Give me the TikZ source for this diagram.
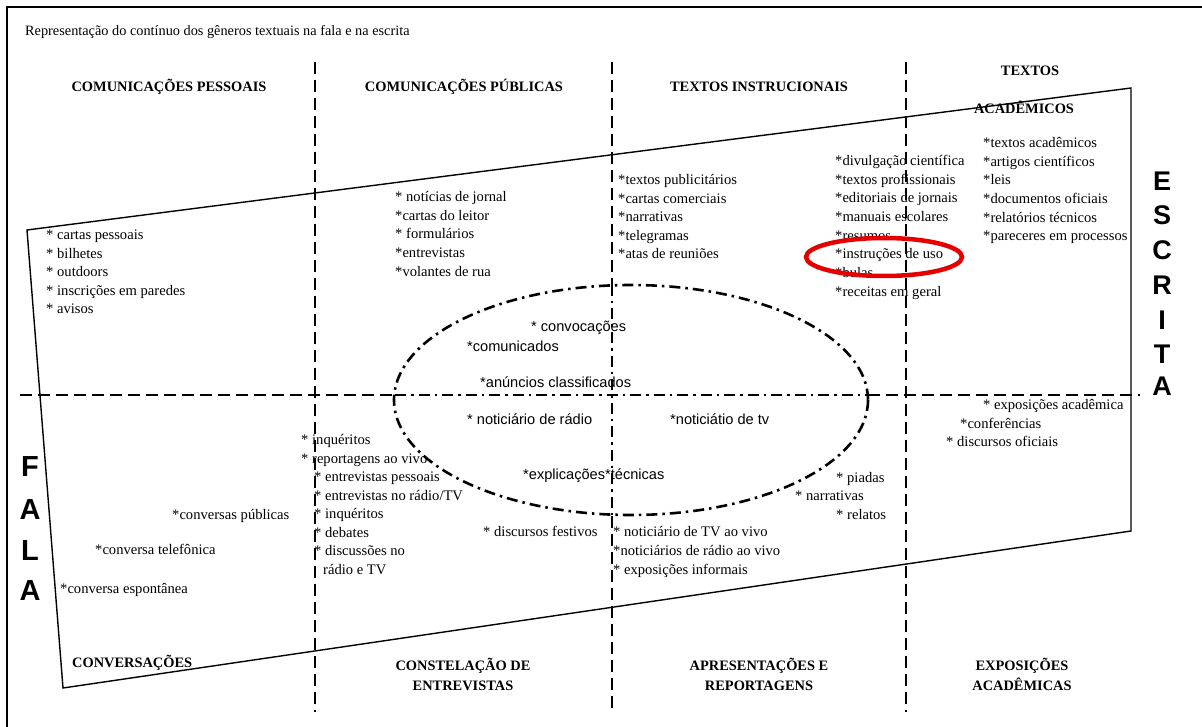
\documentclass[tikz,border=0pt]{standalone}
\usepackage{fontspec}
\setmainfont{Liberation Serif}
\setsansfont{Liberation Sans}
\begin{document}
\begin{tikzpicture}[x=1pt,y=-1pt,
  item/.style={anchor=west,inner sep=0pt,font=\fontsize{14.6}{16}\selectfont,text height=10pt,text depth=3pt},
  sitem/.style={anchor=west,inner sep=0pt,font=\sffamily\fontsize{14.6}{16}\selectfont,text height=10pt,text depth=3pt},
  head/.style={inner sep=0pt,font=\bfseries\fontsize{14.4}{20}\selectfont,align=center},
  bigletter/.style={inner sep=0pt,font=\sffamily\bfseries\fontsize{29}{30}\selectfont},
  dline/.style={line width=2.6pt,dash pattern=on 12pt off 6pt},
  ddline/.style={line width=2.6pt,dash pattern=on 11pt off 5pt on 2.5pt off 5pt},
  solidl/.style={line width=1.4pt,line join=miter}
]
\useasboundingbox (0,0) rectangle (1202,727);
\fill[white] (0,0) rectangle (1202,727);
% frame
\draw[line width=2pt] (7,727) -- (7,7) -- (1202,7);

% title
\node[anchor=west,inner sep=0pt,font=\fontsize{14.3}{16}\selectfont] (title) at (25,32) {Representação do contínuo dos gêneros textuais na fala e na escrita};

% coordinates for lines
\coordinate (v1t) at (315,62); \coordinate (v1b) at (315,712);
\coordinate (v2t) at (612,62); \coordinate (v2a) at (612,285); \coordinate (v2c) at (612,516); \coordinate (v2b) at (612,712);
\coordinate (v3t) at (906,62); \coordinate (v3b) at (906,712);
\coordinate (hl) at (20,395); \coordinate (ha) at (395,395); \coordinate (hc) at (868,395); \coordinate (hr) at (1140,395);

\draw[dline] (v1t) -- (v1b);
\draw[dline] (v3t) -- (v3b);
\draw[dline] (v2t) -- (v2a);
\draw[ddline] (v2a) -- (v2c);
\draw[dline] (v2c) -- (v2b);
\draw[dline] (hl) -- (ha);
\draw[ddline] (ha) -- (hc);
\draw[dline] (hc) -- (hr);

% central ellipse
\coordinate (ec) at (631,400);
\draw[ddline] (ec) ellipse [x radius=237, y radius=115];

% quadrilateral
\coordinate (qtl) at (27,230); \coordinate (qtr) at (1131,88);
\coordinate (qbr) at (1131,531); \coordinate (qbl) at (63,688);
\draw[solidl] (qtl) -- (qtr) -- (qbr) -- (qbl) -- cycle;

% headers
\node[head] (h1) at (169,87) {COMUNICAÇÕES PESSOAIS};
\node[head] (h2) at (464,87) {COMUNICAÇÕES PÚBLICAS};
\node[head] (h3) at (759,87) {TEXTOS INSTRUCIONAIS};
\node[head] (h4a) at (1030,71) {TEXTOS};
\node[head] (h4b) at (1024,107) {ACADÊMICOS};
\node[head,anchor=west] (b1) at (72,663) {CONVERSAÇÕES};
\node[head] (b2) at (463,674) {CONSTELAÇÃO DE\\ENTREVISTAS};
\node[head] (b3) at (759,674) {APRESENTAÇÕES E\\REPORTAGENS};
\node[head] (b4) at (1022,674) {EXPOSIÇÕES\\ACADÊMICAS};

% columns of items
\foreach \t [count=\i] in {* cartas pessoais,* bilhetes,* outdoors,* inscrições em paredes,* avisos}
  \node[item] (ca\i) at (46,{236+18.6*(\i-1)}) {\t};
\foreach \t [count=\i] in {* notícias de jornal,*cartas do leitor,* formulários,*entrevistas,*volantes de rua}
  \node[item] (cb\i) at (395,{198+18.7*(\i-1)}) {\t};
\foreach \t [count=\i] in {*textos publicitários,*cartas comerciais,*narrativas,*telegramas,*atas de reuniões}
  \node[item] (cc\i) at (618,{181+18.6*(\i-1)}) {\t};
\foreach \t [count=\i] in {*divulgação científica,*textos profissionais,*editoriais de jornais,*manuais escolares,*resumos,*instruções de uso,*bulas,*receitas em geral}
  \node[item] (cd\i) at (835,{162+18.7*(\i-1)}) {\t};
\foreach \t [count=\i] in {*textos acadêmicos,*artigos científicos,*leis,*documentos oficiais,*relatórios técnicos,*pareceres em processos}
  \node[item] (ce\i) at (983,{144+18.7*(\i-1)}) {\t};

\node[item] (cf1) at (301,441) {* inquéritos};
\node[item] (cf2) at (301,460) {* reportagens ao vivo};
\foreach \t [count=\i] in {* entrevistas pessoais,* entrevistas no rádio/TV,* inquéritos,* debates,* discussões no}
  \node[item] (cg\i) at (314,{478+18.6*(\i-1)}) {\t};
\node[item] (cg6) at (323,571) {rádio e TV};
\foreach \t [count=\i] in {* noticiário de TV ao vivo,*noticiários de rádio ao vivo,* exposições informais}
  \node[item] (ch\i) at (613,{533+19*(\i-1)}) {\t};

\node[item] (ci1) at (983,406) {* exposições acadêmica};
\node[item] (ci2) at (960,425) {*conferências};
\node[item] (ci3) at (946,443) {* discursos oficiais};

\node[item] (cj1) at (836,479) {* piadas};
\node[item] (cj2) at (795,497) {* narrativas};
\node[item] (cj3) at (836,516) {* relatos};

\node[item] (ck1) at (172,516) {*conversas públicas};
\node[item] (ck2) at (95,551) {*conversa telefônica};
\node[item] (ck3) at (60,590) {*conversa espontânea};
\node[item] (ck4) at (483,533) {* discursos festivos};

% ellipse interior (sans)
\node[sitem] (s1) at (531,328) {* convocações};
\node[sitem] (s2) at (467,348) {*comunicados};
\node[sitem] (s3) at (480,384) {*anúncios classificados};
\node[sitem] (s4) at (467,421) {* noticiário de rádio};
\node[sitem] (s5) at (670,421) {*noticiátio de tv};
\node[sitem] (s6) at (523,476) {*explicações*técnicas};

% FALA / ESCRITA
\foreach \l/\y [count=\i] in {F/467,A/510,L/551,A/591}
  \node[bigletter] (fala\i) at (30,\y) {\l};
\foreach \l/\y [count=\i] in {E/181,S/215,C/250,R/285,I/320,T/354,A/386}
  \node[bigletter,font=\sffamily\bfseries\fontsize{27}{30}\selectfont] (escr\i) at (1162,\y) {\l};

% red highlight
\coordinate (rc) at (884,257);
\draw[red!90!black,line width=4.5pt] (rc) ellipse [x radius=78, y radius=19];
\end{tikzpicture}
\end{document}
